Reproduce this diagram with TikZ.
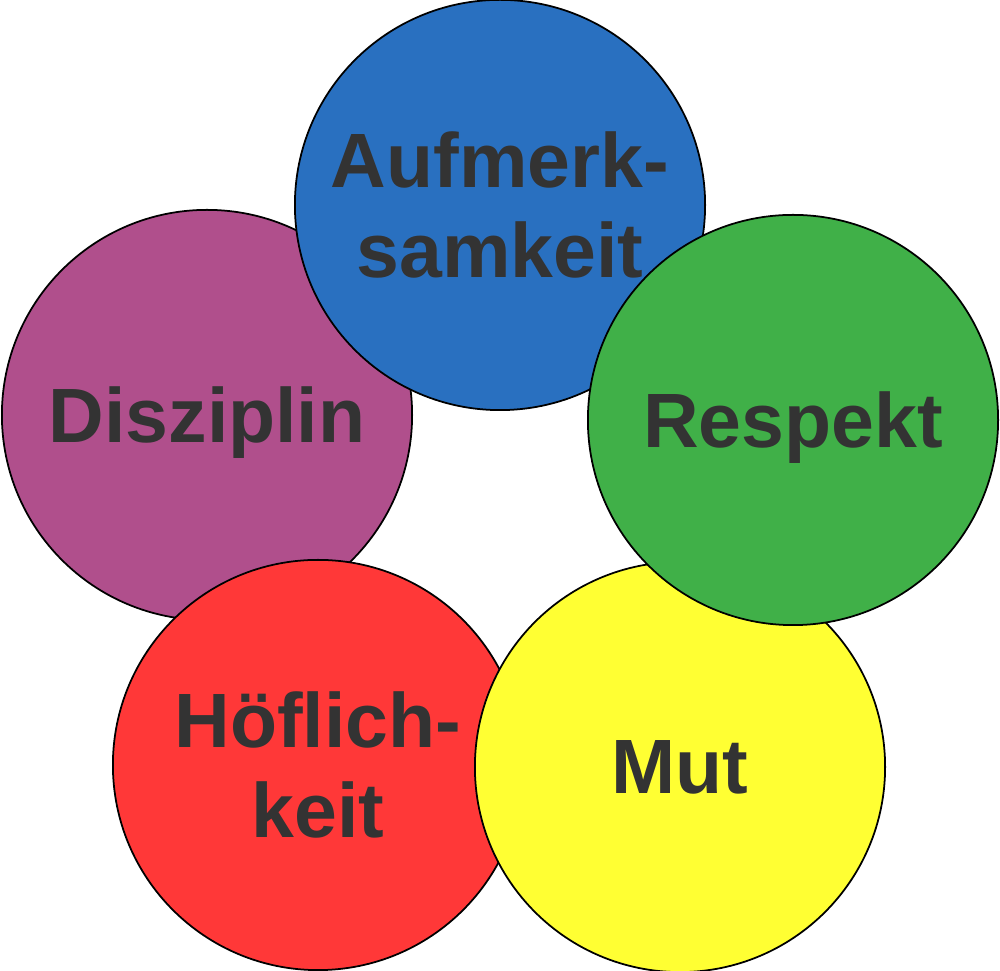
\documentclass[tikz,border=0pt]{standalone}
\usepackage{fontspec}
\setmainfont{Liberation Sans}
\definecolor{discol}{HTML}{B04F8C}
\definecolor{aufcol}{HTML}{2970C0}
\definecolor{hoecol}{HTML}{FF3838}
\definecolor{mutcol}{HTML}{FFFF33}
\definecolor{rescol}{HTML}{40B048}
\definecolor{textgray}{HTML}{333333}

\begin{document}
\begin{tikzpicture}[x=0.01cm,y=-0.01cm,
    ring/.style={circle,draw=black,line width=0.5pt,minimum size=4.1cm,
      inner sep=0pt,align=center,text=textgray,text depth=0pt,
      font=\fontsize{21.9}{25.6}\selectfont\bfseries}]
    \useasboundingbox (0,0) rectangle (1000,971);
    % drawn from bottom layer to top layer
    \node[ring,fill=discol] (disziplin) at (207,415) {Disziplin};
    \node[ring,fill=aufcol] (aufmerksamkeit) at (500,205) {Aufmerk-\\samkeit};
    \node[ring,fill=hoecol] (hoeflichkeit) at (318,765) {Höflich-\\keit};
    \node[ring,fill=mutcol] (mut) at (680,767) {Mut};
    \node[ring,fill=rescol] (respekt) at (793,420) {Respekt};
\end{tikzpicture}
\end{document}
